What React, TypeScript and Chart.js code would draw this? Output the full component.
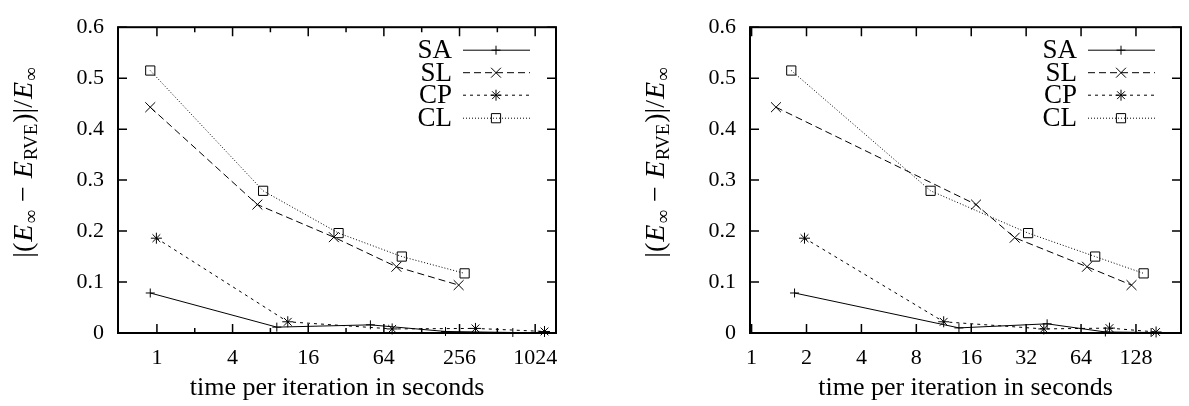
import React, { useEffect, useRef } from 'react';
import { Chart, registerables } from 'chart.js';

Chart.register(...registerables);

// ---------- data ----------
const seriesNames = ['SA', 'SL', 'CP', 'CL'];

// left panel: time per iteration (s)
const leftTimeSA = [0.885, 9.0, 50, 198, 680];
const leftTimeSL = [0.885, 6.3, 25.6, 80.5, 252];
const leftTimeCP = [0.99, 11, 74.5, 343, 1215];
const leftTimeCL = [0.885, 7.0, 27.9, 88.9, 281];
// left panel: relative error
const leftErrSA = [0.0785, 0.0115, 0.016, 0.003, 0.001];
const leftErrSL = [0.443, 0.252, 0.188, 0.13, 0.094];
const leftErrCP = [0.186, 0.022, 0.008, 0.009, 0.003];
const leftErrCL = [0.515, 0.279, 0.196, 0.15, 0.117];

// right panel: time per iteration (s)
const rightTimeSA = [1.72, 13.7, 41.7, 87, 155];
const rightTimeSL = [1.36, 17.0, 27.7, 69, 121];
const rightTimeCP = [1.95, 11.3, 40, 91.6, 165];
const rightTimeCL = [1.65, 9.58, 32.8, 76.5, 141];
// right panel: relative error
const rightErrSA = [0.0785, 0.010, 0.018, 0.002, 0.001];
const rightErrSL = [0.443, 0.252, 0.187, 0.13, 0.094];
const rightErrCP = [0.186, 0.022, 0.008, 0.0096, 0.002];
const rightErrCL = [0.515, 0.279, 0.196, 0.15, 0.117];

// ticks
const leftXTicks = [1, 4, 16, 64, 256, 1024];
const leftXMinorTicks = [2, 8, 32, 128, 512];
const rightXTicks = [1, 2, 4, 8, 16, 32, 64, 128];
const rightXMinorTicks: number[] = [];
const yTicks = [0, 0.1, 0.2, 0.3, 0.4, 0.5, 0.6];

const xTitle = 'time per iteration in seconds';

// ---------- styles ----------
const FAMILY = '"Liberation Serif", "Times New Roman", serif';
const pointStyles = ['cross', 'crossRot', 'star', 'rect'];
const pointRadii = [4.5, 7, 5.5, 6.5];
const dashes = [[], [7, 4], [3, 4], [1, 2]];

function drawMarker(ctx: CanvasRenderingContext2D, style: string, x: number, y: number, r: number) {
  const d = r * Math.SQRT1_2;
  ctx.beginPath();
  if (style === 'cross' || style === 'star') {
    ctx.moveTo(x - r, y); ctx.lineTo(x + r, y);
    ctx.moveTo(x, y - r); ctx.lineTo(x, y + r);
  }
  if (style === 'crossRot' || style === 'star') {
    ctx.moveTo(x - d, y - d); ctx.lineTo(x + d, y + d);
    ctx.moveTo(x + d, y - d); ctx.lineTo(x - d, y + d);
  }
  if (style === 'rect') {
    ctx.rect(x - d, y - d, 2 * d, 2 * d);
  }
  ctx.stroke();
}

function drawYTitle(ctx: CanvasRenderingContext2D, bx: number, cy: number) {
  const size = 28;
  const sub = 19;
  const segs = [
    { t: '|(', f: `${size}px ${FAMILY}`, dy: 0 },
    { t: 'E', f: `italic ${size}px ${FAMILY}`, dy: 0 },
    { t: '\u221E', f: `${sub}px ${FAMILY}`, dy: 5 },
    { t: ' \u2212 ', f: `${size}px ${FAMILY}`, dy: 0 },
    { t: 'E', f: `italic ${size}px ${FAMILY}`, dy: 0 },
    { t: 'RVE', f: `${sub}px ${FAMILY}`, dy: 5 },
    { t: ')|/', f: `${size}px ${FAMILY}`, dy: 0 },
    { t: 'E', f: `italic ${size}px ${FAMILY}`, dy: 0 },
    { t: '\u221E', f: `${sub}px ${FAMILY}`, dy: 5 },
  ];
  ctx.save();
  ctx.translate(bx, cy);
  ctx.rotate(-Math.PI / 2);
  ctx.fillStyle = '#000';
  ctx.textBaseline = 'alphabetic';
  ctx.textAlign = 'left';
  let total = 0;
  const widths = segs.map((s) => {
    ctx.font = s.f;
    const w = ctx.measureText(s.t).width + 1;
    total += w;
    return w;
  });
  let x = -total / 2;
  segs.forEach((s, i) => {
    ctx.font = s.f;
    ctx.fillText(s.t, x, s.dy);
    x += widths[i];
  });
  ctx.restore();
}

const gnuPlugin = {
  id: 'gnu',
  afterDraw(chart: any, _args: any, opts: any) {
    const { ctx, chartArea: a, scales } = chart;
    ctx.save();
    ctx.strokeStyle = '#000';
    ctx.setLineDash([]);
    ctx.lineWidth = 1.5;
    ctx.beginPath();
    (opts.majors as number[]).forEach((v) => {
      const px = scales.x.getPixelForValue(v);
      ctx.moveTo(px, a.bottom); ctx.lineTo(px, a.bottom - 9);
      ctx.moveTo(px, a.top); ctx.lineTo(px, a.top + 9);
    });
    (opts.minors as number[]).forEach((v) => {
      const px = scales.x.getPixelForValue(v);
      ctx.moveTo(px, a.bottom); ctx.lineTo(px, a.bottom - 5);
      ctx.moveTo(px, a.top); ctx.lineTo(px, a.top + 5);
    });
    yTicks.forEach((v) => {
      const py = scales.y.getPixelForValue(v);
      ctx.moveTo(a.left, py); ctx.lineTo(a.left + 9, py);
      ctx.moveTo(a.right, py); ctx.lineTo(a.right - 9, py);
    });
    ctx.stroke();
    ctx.lineWidth = 2;
    ctx.strokeRect(a.left, a.top, a.right - a.left, a.bottom - a.top);

    // legend
    const rowOffsets = [23, 45.5, 68, 91];
    ctx.font = `27px ${FAMILY}`;
    ctx.fillStyle = '#000';
    ctx.textAlign = 'right';
    ctx.textBaseline = 'middle';
    seriesNames.forEach((name, i) => {
      const y = a.top + rowOffsets[i];
      ctx.fillText(name, a.right - 104, y + 1);
      ctx.lineWidth = 1;
      ctx.setLineDash(dashes[i]);
      ctx.beginPath();
      ctx.moveTo(a.right - 93, y);
      ctx.lineTo(a.right - 26, y);
      ctx.stroke();
      ctx.setLineDash([]);
      drawMarker(ctx, pointStyles[i], a.right - 60, y, pointRadii[i]);
    });
    ctx.restore();

    drawYTitle(ctx, a.left - opts.titleGap, 162);
  },
};

interface PanelSpec {
  times: number[][];
  errs: number[][];
  xMin: number;
  xMax: number;
  majors: number[];
  minors: number[];
  yAxisWidth: number;
  padRight: number;
}

function makeChart(canvas: HTMLCanvasElement, spec: PanelSpec) {
  const tickFont = { family: FAMILY, size: 22 };
  return new Chart(canvas, {
    type: 'line',
    data: {
      datasets: seriesNames.map((name, i) => ({
        label: name,
        data: spec.times[i].map((t, j) => ({ x: t, y: spec.errs[i][j] })),
        borderColor: '#000',
        borderWidth: 1,
        borderDash: dashes[i],
        pointStyle: pointStyles[i],
        pointRadius: pointRadii[i],
        pointBorderWidth: 1,
        pointBorderColor: '#000',
        pointBackgroundColor: 'rgba(0,0,0,0)',
        fill: false,
        tension: 0,
        clip: false,
      })),
    },
    options: {
      responsive: false,
      animation: false,
      events: [],
      layout: { padding: { left: 0, top: 20, right: spec.padRight, bottom: 0 } },
      plugins: {
        legend: { display: false },
        tooltip: { enabled: false },
        gnu: { majors: spec.majors, minors: spec.minors, titleGap: 86 },
      } as any,
      scales: {
        x: {
          type: 'logarithmic',
          min: spec.xMin,
          max: spec.xMax,
          grid: { display: false, drawTicks: false },
          border: { display: false },
          afterBuildTicks: (scale: any) => {
            scale.ticks = spec.majors.map((v) => ({ value: v }));
          },
          afterFit: (scale: any) => {
            scale.height = 73;
          },
          ticks: {
            font: tickFont,
            color: '#000',
            padding: 12,
            autoSkip: false,
            maxRotation: 0,
            callback: (v: any) => String(v),
          },
          title: {
            display: true,
            text: xTitle,
            font: { family: FAMILY, size: 26 },
            color: '#000',
            padding: { top: 0, bottom: 2 },
          },
        },
        y: {
          type: 'linear',
          min: 0,
          max: 0.6,
          grid: { display: false, drawTicks: false },
          border: { display: false },
          afterFit: (scale: any) => {
            scale.width = spec.yAxisWidth;
          },
          afterBuildTicks: (scale: any) => {
            scale.ticks = yTicks.map((v) => ({ value: v }));
          },
          ticks: {
            font: tickFont,
            color: '#000',
            padding: 14,
            callback: (v: any) => (Number(v) === 0 ? '0' : Number(v).toFixed(1)),
          },
        },
      },
    } as any,
    plugins: [gnuPlugin],
  });
}

function Panel({ spec, left, width }: { spec: PanelSpec; left: number; width: number }) {
  const ref = useRef<HTMLCanvasElement>(null);
  useEffect(() => {
    if (!ref.current) return;
    const chart = makeChart(ref.current, spec);
    return () => chart.destroy();
  }, [spec]);
  return (
    <canvas
      ref={ref}
      width={width}
      height={406}
      style={{ position: 'absolute', left, top: 0, width, height: 406, display: 'block' }}
    />
  );
}

const leftSpec: PanelSpec = {
  times: [leftTimeSA, leftTimeSL, leftTimeCP, leftTimeCL],
  errs: [leftErrSA, leftErrSL, leftErrCP, leftErrCL],
  xMin: 0.49,
  xMax: 1500,
  majors: leftXTicks,
  minors: leftXMinorTicks,
  yAxisWidth: 118,
  padRight: 39,
};

const rightSpec: PanelSpec = {
  times: [rightTimeSA, rightTimeSL, rightTimeCP, rightTimeCL],
  errs: [rightErrSA, rightErrSL, rightErrCP, rightErrCL],
  xMin: 0.98,
  xMax: 226,
  majors: rightXTicks,
  minors: rightXMinorTicks,
  yAxisWidth: 155,
  padRight: 4,
};

export default function App() {
  return (
    <div style={{ position: 'fixed', left: 0, top: 0, width: 1189, height: 406, background: '#fff', overflow: 'hidden' }}>
      <Panel spec={leftSpec} left={0} width={595} />
      <Panel spec={rightSpec} left={595} width={594} />
    </div>
  );
}
